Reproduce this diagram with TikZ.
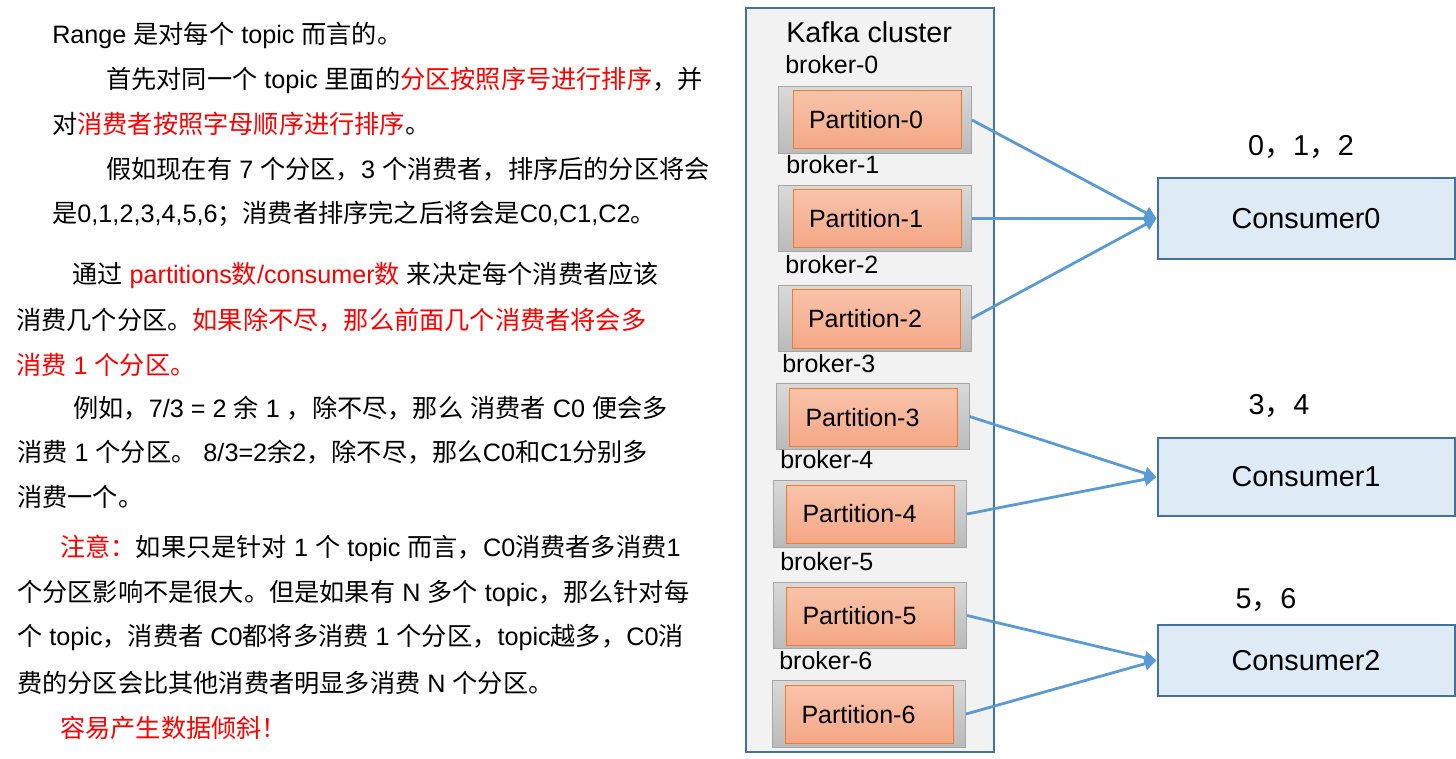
\documentclass[tikz,border=0pt]{standalone}
\usepackage{fontspec}
\setmainfont{Liberation Sans}
\newfontfamily\cjk{Noto Sans CJK SC}
\usetikzlibrary{arrows.meta}

% switch to the CJK font for Chinese characters and back
\XeTeXinterchartokenstate=1
\newXeTeXintercharclass\cjkclass
\newcount\cjkcode
\def\cjkrange#1#2{\cjkcode=#1\relax\loop\XeTeXcharclass\cjkcode=\cjkclass\relax\ifnum\cjkcode<#2\relax\advance\cjkcode by 1\relax\repeat}
\cjkrange{"3000}{"303F}
\cjkrange{"4E00}{"9FFF}
\cjkrange{"FF00}{"FFEF}
\XeTeXinterchartoks 0 \cjkclass = {\cjk}
\XeTeXinterchartoks 4095 \cjkclass = {\cjk}
\XeTeXinterchartoks \cjkclass 0 = {\rmfamily}
\XeTeXinterchartoks \cjkclass 4095 = {\rmfamily}

\definecolor{clusterfill}{RGB}{242,242,242}
\definecolor{clusterline}{RGB}{65,113,156}
\definecolor{brokerline}{RGB}{166,166,166}
\definecolor{brokertop}{RGB}{217,217,217}
\definecolor{brokerbot}{RGB}{186,186,186}
\definecolor{parttop}{RGB}{248,195,170}
\definecolor{partbot}{RGB}{244,167,133}
\definecolor{partline}{RGB}{237,125,49}
\definecolor{consfill}{RGB}{222,235,247}
\definecolor{arrowblue}{RGB}{91,155,213}

\tikzset{
  txt/.style={anchor=west, inner sep=0pt, font=\fontsize{18.9}{22}\selectfont},
  lbl/.style={anchor=base west, inner sep=0pt, font=\fontsize{18.75}{22}\selectfont},
  cluster/.style={draw=clusterline, line width=1.5pt, fill=clusterfill, minimum width=186pt, minimum height=558pt},
  broker/.style={draw=brokerline, line width=0.75pt, top color=brokertop, bottom color=brokerbot, minimum width=144.75pt, minimum height=50pt},
  partition/.style={draw=partline, line width=0.75pt, top color=parttop, bottom color=partbot, text width=102pt, inner xsep=12pt, minimum height=43.5pt, align=left, font=\fontsize{18.75}{22}\selectfont},
  consumer/.style={draw=clusterline, line width=1.5pt, fill=consfill, minimum width=222.75pt, font=\fontsize{21.6}{26}\selectfont},
  feed/.style={draw=arrowblue, line width=2.1pt, -{Triangle[length=9pt,width=9.5pt]}}
}

\begin{document}
\begin{tikzpicture}[x=0.75pt,y=0.75pt,yscale=-1,xscale=1]
\useasboundingbox (0,0) rectangle (1456,759);

% Text Node
\node [txt] (t1) at (52,35) {Range 是对每个 topic 而言的。};
% Text Node
\node [txt] (t2) at (106,80) {首先对同一个 topic 里面的\textcolor{red}{分区按照序号进行排序}，并};
% Text Node
\node [txt] (t3) at (52,124) {对\textcolor{red}{消费者按照字母顺序进行排序}。};
% Text Node
\node [txt] (t4) at (106,169) {假如现在有 7 个分区，3 个消费者，排序后的分区将会};
% Text Node
\node [txt] (t5) at (52,214) {是0,1,2,3,4,5,6；消费者排序完之后将会是C0,C1,C2。};
% Text Node
\node [txt] (t6) at (72,275) {通过 \textcolor{red}{partitions数/consumer数} 来决定每个消费者应该};
% Text Node
\node [txt] (t7) at (16,320) {消费几个分区。\textcolor{red}{如果除不尽，那么前面几个消费者将会多}};
% Text Node
\node [txt, text=red] (t8) at (16,365) {消费 1 个分区。};
% Text Node
\node [txt] (t9) at (73,408) {例如，7/3 = 2 余 1 ，除不尽，那么 消费者 C0 便会多};
% Text Node
\node [txt] (t10) at (17,452) {消费 1 个分区。 8/3=2余2，除不尽，那么C0和C1分别多};
% Text Node
\node [txt] (t11) at (17,497) {消费一个。};
% Text Node
\node [txt] (t12) at (60,548) {\textcolor{red}{注意：}如果只是针对 1 个 topic 而言，C0消费者多消费1};
% Text Node
\node [txt] (t13) at (17,593) {个分区影响不是很大。但是如果有 N 多个 topic，那么针对每};
% Text Node
\node [txt] (t14) at (17,638) {个 topic，消费者 C0都将多消费 1 个分区，topic越多，C0消};
% Text Node
\node [txt] (t15) at (17,683) {费的分区会比其他消费者明显多消费 N 个分区。};
% Text Node
\node [txt, text=red] (t16) at (60,728) {容易产生数据倾斜！};

%Shape: Rectangle [cluster]
\node [cluster] (kafka) at (870,380) {};
% Text Node
\node [lbl, font=\fontsize{21.5}{26}\selectfont] (kname) at (786,43) {Kafka cluster};

% Brokers
\node [lbl] (n0) at (785,74) {broker-0};
\node [broker] (b0) at (875,120) {};
\node [partition] (p0) at (877,120) {Partition-0};

\node [lbl] (n1) at (786,174) {broker-1};
\node [broker] (b1) at (875,218.5) {};
\node [partition] (p1) at (877,219) {Partition-1};

\node [lbl] (n2) at (785,274) {broker-2};
\node [broker] (b2) at (874.5,318.5) {};
\node [partition] (p2) at (876,319) {Partition-2};

\node [lbl] (n3) at (782,372) {broker-3};
\node [broker] (b3) at (872.5,416.5) {};
\node [partition] (p3) at (873.5,417.5) {Partition-3};

\node [lbl] (n4) at (780,468) {broker-4};
\node [broker] (b4) at (870,514) {};
\node [partition] (p4) at (870.5,514) {Partition-4};

\node [lbl] (n5) at (780,570) {broker-5};
\node [broker] (b5) at (870,615.5) {};
\node [partition] (p5) at (870.5,616) {Partition-5};

\node [lbl] (n6) at (779,669) {broker-6};
\node [broker] (b6) at (869,714) {};
\node [partition] (p6) at (869.5,714.5) {Partition-6};

% Consumers
\node [consumer, minimum height=60.75pt] (c0) at (1306,218.5) {Consumer0};
\node [consumer, minimum height=58.5pt] (c1) at (1306,477) {Consumer1};
\node [consumer, minimum height=53.25pt] (c2) at (1306,660.5) {Consumer2};

% Text Node
\node [font=\fontsize{21.6}{26}\selectfont, inner sep=0pt] (a0) at (1301,147) {0，1，2};
% Text Node
\node [font=\fontsize{21.6}{26}\selectfont, inner sep=0pt] (a1) at (1279,406) {3，4};
% Text Node
\node [font=\fontsize{21.6}{26}\selectfont, inner sep=0pt] (a2) at (1266,600) {5，6};

% Arrows
\draw [feed] (b0.east) -- (c0.west);
\draw [feed] (b1.east) -- (c0.west);
\draw [feed] (b2.east) -- (c0.west);
\draw [feed] (b3.east) -- (c1.west);
\draw [feed] (b4.east) -- (c1.west);
\draw [feed] (b5.east) -- (c2.west);
\draw [feed] (b6.east) -- (c2.west);

\end{tikzpicture}
\end{document}
